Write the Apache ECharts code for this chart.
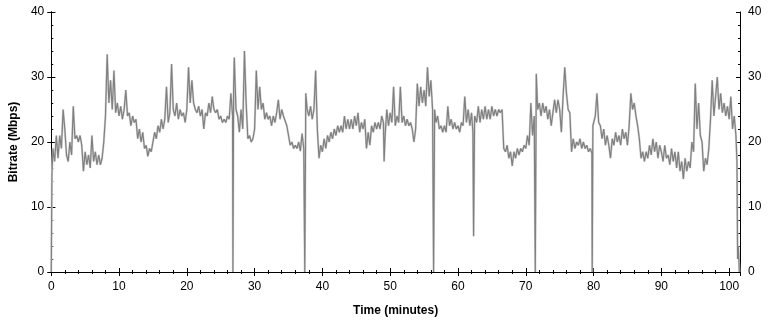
<!DOCTYPE html>
<html>
<head>
<meta charset="utf-8">
<script src="https://cdn.jsdelivr.net/npm/echarts@6/dist/echarts.min.js"></script>
<style>
  html, body { margin: 0; padding: 0; background: #fff; }
  #chart { width: 771px; height: 322px; }
</style>
</head>
<body>
<div id="chart"></div>
<script>
// bitrate readings [minute, Mbps]
var part1 = [
  [0,0],[0.1,15],[0.25,19],[0.5,17],[0.75,21],[1,17.5],[1.25,21],[1.5,19],[1.75,25],[2,22],
  [2.25,18],[2.5,17],[2.75,20],[3,18],[3.25,25.5],[3.5,20.5],[3.75,21],[4,20],[4.25,21],[4.5,19.5],
  [4.75,15.5],[5,18.5],[5.25,16.5],[5.5,18],[5.75,16],[6,21],[6.25,17],[6.5,18.5],[6.75,16.5],[7,18],
  [7.25,16.5],[7.5,17.5],[7.75,20],[8,24],[8.25,33.5],[8.5,26],[8.75,29.5],[9,25],[9.25,31],[9.5,24.5],
  [9.75,26],[10,24],[10.25,25.5],[10.5,23.5],[10.75,25],[11,28],[11.25,24],[11.5,24.5],[11.75,22.5],[12,24],
  [12.25,23],[12.5,23.5],[12.75,20.5],[13,22],[13.25,20],[13.5,21.5],[13.75,19],[14,19.5],[14.25,17.8],[14.5,19],
  [14.75,18.5],[15,18.5],[15.25,21.5],[15.5,20.5],[15.75,22.5],[16,21.5],[16.25,23.5],[16.5,22],[16.75,23.5],[17,28.5],
  [17.25,23],[17.5,24.5],[17.75,32],[18,25],[18.25,24],[18.5,26],[18.75,23.5],[19,25],[19.25,24],[19.5,24.5],
  [19.75,23],[20,25],[20.25,31.5],[20.5,26],[20.75,29.5],[21,26],[21.25,25],[21.5,24.5],[21.75,25.5],[22,24],
  [22.25,25],[22.5,22],[22.75,24.5],[23,24],[23.25,26],[23.5,24.5],[23.75,27],[24,25],[24.25,24.5],[24.5,25],
  [24.75,23.5],[25,24],[25.25,23],[25.5,23.5],[25.75,23],[26,24],[26.25,23.5],[26.5,27.5],[26.75,24]
];
var part2 = [
  [26.8,0],[26.9,28],[27,33],[27.25,25],[27.5,24],[27.75,21.5],[28,25],[28.25,22],[28.5,34],[28.75,26],
  [29,20.5],[29.25,21],[29.5,20],[29.75,20.5],[30,22],[30.25,31],[30.5,25],[30.75,28.5],[31,25],[31.25,26],
  [31.5,23.5],[31.75,24.5],[32,23.5],[32.25,24],[32.5,22.5],[32.75,24],[33,23],[33.25,24.5],[33.5,26.5],[33.75,23.5],
  [34,25],[34.25,24],[34.5,24],[34.75,22.5],[35,22.5],[35.25,19.5],[35.5,20],[35.75,19],[36,19.5],[36.25,19],
  [36.5,20],[36.75,18.6],[37,21.3],[37.25,19],[37.4,0],[37.55,27.5],[37.75,25],[38,24],[38.25,25.5],[38.5,23.5],
  [38.75,25],[39,31],[39.25,22],[39.5,17.5],[39.75,19.5],[40,18.5],[40.25,20.5],[40.5,19],[40.75,21],[41,20],
  [41.25,21.5],[41.5,20.5],[41.75,22],[42,21],[42.25,22.5],[42.5,21.5],[42.75,22.5],[43,21.5],[43.25,24],[43.5,22],
  [43.75,23.5],[44,22],[44.25,23.5],[44.5,22],[44.75,24],[45,22.5],[45.25,24.5],[45.5,21.5],[45.75,23],[46,22],
  [46.25,23.5],[46.5,19],[46.75,21.5],[47,19.5],[47.25,22.5],[47.5,21.5],[47.75,23],[48,22],[48.25,23],[48.5,22],
  [48.75,24],[49,23],[49.1,17],[49.25,21],[49.5,25],[49.75,22.5],[50,24.5],[50.25,23],[50.5,28.5],[50.75,22.5]
];
var part3 = [
  [51,24],[51.25,23],[51.5,28.5],[51.75,23],[52,24],[52.25,22.5],[52.5,23.5],[52.75,22.5],[53,23],[53.25,22],
  [53.5,20],[53.75,22],[54,29],[54.25,25.5],[54.5,28.5],[54.75,26],[55,28],[55.25,25.5],[55.5,31.5],[55.75,27],
  [56,29.5],[56.25,25],[56.4,0],[56.55,25],[56.75,23],[57,24],[57.25,22],[57.5,22.5],[57.75,21.5],[58,22.5],
  [58.25,21.5],[58.5,25.5],[58.75,22.5],[59,23.5],[59.25,22],[59.5,23],[59.75,22],[60,22.5],[60.25,21.5],[60.5,23],
  [60.75,22.5],[61,27],[61.25,23],[61.5,25],[61.75,22.5],[62,24.5],[62.2,21.5],[62.3,5.5],[62.45,24],[62.75,23],
  [63,25.5],[63.25,23],[63.5,25],[63.75,23.5],[64,25.5],[64.25,23.5],[64.5,25],[64.75,23.5],[65,25.5],[65.25,24],
  [65.5,25],[65.75,24],[66,25],[66.25,24.5],[66.5,25],[66.75,19],[67,18.5],[67.25,19.5],[67.5,17.5],[67.75,18.5],
  [68,16.3],[68.25,18.5],[68.5,17.5],[68.75,19],[69,18],[69.25,19],[69.5,18.5],[69.75,19.5],[70,19],[70.25,21],
  [70.5,19.5],[70.75,26],[71,21],[71.25,24],[71.4,0],[71.55,30.5],[71.75,25],[72,26],[72.25,24],[72.5,26],
  [72.75,24.5],[73,25.5],[73.25,23.5],[73.5,25],[73.75,22.5],[74,24.5],[74.25,26.5],[74.5,24.5],[74.75,26.5],[75,25],
  [75.25,21.5],[75.5,27],[75.75,31.5],[76,27.5],[76.25,25],[76.5,24.5],[76.75,18.5]
];
var part4 = [
  [77,20.5],[77.25,19],[77.5,20],[77.75,19.5],[78,20.5],[78.25,19],[78.5,20],[78.75,19],[79,19.5],[79.25,18.5],
  [79.5,19],[79.75,18.3],[79.8,0],[79.9,22.5],[80.25,24],[80.5,27.5],[80.75,23],[81,22.5],[81.25,20.5],[81.5,22],
  [81.75,19.5],[82,21],[82.25,19.5],[82.5,17.5],[82.75,20.5],[83,19.5],[83.25,21.5],[83.5,20],[83.75,21],[84,19.5],
  [84.25,22],[84.5,20.5],[84.75,21.5],[85,19.5],[85.25,22.5],[85.5,27.5],[85.75,25],[86,26],[86.25,24],[86.5,22.5],
  [86.75,20.5],[87,17.5],[87.25,18.5],[87.5,17],[87.75,18.5],[88,17.5],[88.25,19.5],[88.5,18],[88.75,20.5],[89,18.5],
  [89.25,20],[89.5,17.5],[89.75,19.5],[90,18.5],[90.25,17],[90.5,19.5],[90.75,17.5],[91,18],[91.25,16.5],[91.5,19],
  [91.75,17],[92,18.5],[92.25,16],[92.5,18.5],[92.75,15.5],[93,17],[93.25,14.3],[93.5,17.5],[93.75,15.5],[94,17],
  [94.25,16],[94.5,20],[94.75,18.5],[95,29],[95.25,22],[95.5,26],[95.75,21],[96,20],[96.25,15.5],[96.5,17.5],
  [96.75,16.5],[97,19],[97.25,23.5],[97.5,29.5],[97.75,24],[98,27],[98.25,30],[98.5,25],[98.75,27.5],[99,24.5],
  [99.25,26],[99.5,24],[99.75,25.5],[100,23.5],[100.25,27],[100.5,22],[100.75,24],[101,21],[101.15,17],[101.25,2],
  [101.35,4],[101.5,0]
];
var trace = part1.concat(part2, part3, part4);

var timeMax = 101.6;
var rateMax = 40;

var chart = echarts.init(document.getElementById('chart'));

var labelFont = { color: '#000', fontFamily: 'Liberation Sans', fontSize: 12 };
var nameFont = { color: '#000', fontFamily: 'Liberation Sans', fontSize: 12, fontWeight: 'bold' };
var blackLine = { show: true, lineStyle: { color: '#000', width: 1 } };
var tickOut = { show: true, inside: false, length: 4, lineStyle: { color: '#000' } };
var tickIn = { show: true, inside: true, length: 4, lineStyle: { color: '#000' } };
var minorIn = { show: true, splitNumber: 5, length: 2, lineStyle: { color: '#000' } };

function xAx(pos, opts) {
  return Object.assign({
    type: 'value', position: pos, min: 0, max: timeMax, interval: 10,
    axisLine: blackLine, splitLine: { show: false },
    axisLabel: { show: false }, axisTick: { show: false }
  }, opts);
}
function yAx(pos, opts) {
  return Object.assign({
    type: 'value', position: pos, min: 0, max: rateMax, interval: 10,
    axisLine: blackLine, splitLine: { show: false },
    axisLabel: { show: false }, axisTick: { show: false }
  }, opts);
}

chart.setOption({
  animation: false,
  backgroundColor: '#fff',
  grid: { left: 49, right: 31, top: 12, bottom: 49 },
  xAxis: [
    xAx('bottom', {
      name: 'Time (minutes)', nameLocation: 'middle', nameGap: 33, nameTextStyle: nameFont,
      axisTick: tickOut,
      axisLabel: Object.assign({ show: true, margin: 9, showMaxLabel: false }, labelFont)
    }),
    xAx('bottom', { axisTick: tickIn, minorTick: minorIn }),
    xAx('top', { axisTick: tickIn, minorTick: minorIn })
  ],
  yAxis: [
    yAx('left', {
      name: 'Bitrate (Mbps)', nameLocation: 'middle', nameGap: 30, nameTextStyle: nameFont,
      axisTick: tickOut,
      axisLabel: Object.assign({ show: true, margin: 7 }, labelFont)
    }),
    yAx('left', { axisTick: tickIn, minorTick: minorIn }),
    yAx('right', {
      axisTick: tickOut,
      axisLabel: Object.assign({ show: true, margin: 8 }, labelFont)
    }),
    yAx('right', { axisTick: tickIn, minorTick: minorIn })
  ],
  series: [
    {
      type: 'line', data: trace, showSymbol: false, symbol: 'none',
      lineStyle: { color: '#d4d4d4', width: 2.2 }, z: 1
    },
    {
      type: 'line', data: trace, showSymbol: false, symbol: 'none',
      lineStyle: { color: '#808080', width: 1.2 }, z: 2
    }
  ]
});
</script>
</body>
</html>
